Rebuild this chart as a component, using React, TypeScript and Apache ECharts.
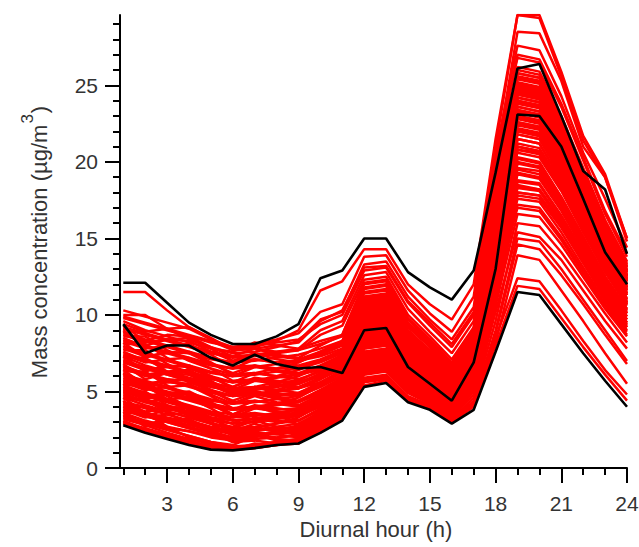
import { useEffect, useRef } from 'react';
import * as echarts from 'echarts';

// Hours of the day (x values)
const hours = [1, 2, 3, 4, 5, 6, 7, 8, 9, 10, 11, 12, 13, 14, 15, 16, 17, 18, 19, 20, 21, 22, 23, 24];

// Axis ticks
const xMajorTicks = [3, 6, 9, 12, 15, 18, 21, 24];
const xMinorTicks = [1, 2, 3, 4, 5, 6, 7, 8, 9, 10, 11, 12, 13, 14, 15, 16, 17, 18, 19, 20, 21, 22, 23, 24];
const yMajorTicks = [0, 5, 10, 15, 20, 25];
const yMinorTicks = [1, 2, 3, 4, 5, 6, 7, 8, 9, 10, 11, 12, 13, 14, 15, 16, 17, 18, 19, 20, 21, 22, 23, 24, 25, 26, 27, 28, 29];

// Black highlighted profiles (µg/m3)
const blackUpper = [12.1, 12.1, 10.8, 9.5, 8.7, 8.1, 8.1, 8.6, 9.4, 12.4, 12.9, 15.0, 15.0, 12.8, 11.8, 11.0, 12.9, 19.3, 26.1, 26.4, 23.0, 19.4, 18.2, 14.0];
const blackMiddle = [9.4, 7.5, 8.0, 8.0, 7.2, 6.7, 7.4, 6.8, 6.5, 6.6, 6.2, 9.0, 9.15, 6.6, 5.5, 4.4, 6.9, 13.0, 23.1, 23.0, 21.0, 17.6, 14.1, 12.0];
const blackLower = [2.8, 2.3, 1.9, 1.5, 1.2, 1.15, 1.3, 1.5, 1.6, 2.3, 3.1, 5.3, 5.55, 4.3, 3.8, 2.9, 3.8, 7.6, 11.5, 11.3, 9.4, 7.5, 5.7, 4.0];

// Red profiles, low morning level
const redLow = [
  [3.0, 2.6, 2.2, 1.8, 1.4, 1.2, 1.3, 1.5, 1.7, 2.5, 3.3, 5.6, 5.8, 4.5, 3.9, 3.0, 4.1, 8.2, 13.9, 13.6, 11.6, 9.6, 7.5, 5.5],
  [3.1, 2.5, 2.1, 1.7, 1.3, 1.2, 1.6, 1.5, 1.6, 2.6, 3.5, 5.9, 6.1, 4.7, 4.1, 3.2, 4.6, 9.6, 16.0, 15.8, 14.1, 12.1, 10.1, 8.2],
  [3.3, 2.9, 2.5, 2.1, 1.7, 1.4, 1.5, 1.7, 1.9, 2.8, 3.6, 6.1, 6.3, 4.9, 4.2, 3.3, 4.8, 10.2, 15.4, 15.1, 13.6, 11.6, 9.6, 7.8],
  [3.4, 2.9, 3.1, 3.2, 2.5, 1.7, 1.8, 1.6, 1.7, 2.7, 3.8, 6.4, 6.5, 5.0, 4.3, 3.4, 5.0, 11.0, 17.2, 17.0, 15.1, 12.9, 10.7, 8.9],
  [3.5, 2.9, 2.5, 2.1, 1.7, 1.5, 2.1, 1.9, 1.8, 2.7, 3.6, 6.3, 6.5, 5.0, 4.3, 3.4, 5.1, 11.2, 17.6, 17.4, 15.4, 13.1, 10.9, 9.0],
  [3.6, 3.6, 2.7, 2.0, 1.5, 1.2, 1.3, 1.5, 1.9, 2.9, 3.7, 6.2, 6.4, 5.0, 4.3, 3.3, 5.2, 11.8, 18.3, 18.1, 16.0, 13.6, 11.3, 9.4],
  [3.7, 2.7, 3.1, 3.0, 2.3, 1.7, 2.2, 1.8, 1.6, 2.5, 3.4, 6.6, 6.8, 5.2, 4.5, 3.5, 5.0, 10.6, 16.6, 16.4, 14.6, 12.5, 10.4, 8.6],
  [3.8, 3.3, 3.5, 3.6, 2.9, 2.1, 2.2, 2.0, 2.1, 2.9, 3.8, 6.6, 6.8, 5.2, 4.5, 3.5, 5.4, 12.1, 18.8, 18.6, 16.5, 14.1, 11.7, 9.7],
  [3.9, 3.5, 3.1, 2.7, 2.3, 2.0, 2.1, 2.3, 2.5, 3.3, 4.1, 6.8, 7.0, 5.4, 4.6, 3.6, 5.5, 12.4, 19.2, 18.9, 16.8, 14.3, 11.9, 9.9],
  [4.0, 3.4, 3.0, 2.6, 2.2, 2.0, 2.6, 2.4, 2.2, 3.0, 3.9, 6.7, 6.9, 5.3, 4.6, 3.6, 5.3, 11.5, 17.8, 17.6, 15.7, 13.4, 11.1, 9.2],
  [4.2, 3.7, 3.9, 4.0, 3.3, 2.5, 2.6, 2.4, 2.5, 3.3, 4.2, 7.0, 7.2, 5.6, 4.8, 3.8, 5.6, 12.6, 19.6, 19.4, 17.2, 14.7, 12.2, 10.1],
  [4.3, 3.9, 3.5, 3.1, 2.7, 2.4, 2.5, 2.7, 2.9, 3.6, 4.4, 7.1, 7.3, 5.7, 4.9, 3.9, 5.9, 13.1, 20.3, 20.0, 17.7, 15.1, 12.5, 10.4],
  [4.4, 3.4, 3.8, 3.7, 3.0, 2.4, 2.9, 2.5, 2.3, 3.1, 4.0, 7.2, 7.4, 5.7, 4.9, 3.9, 5.7, 12.2, 18.0, 17.8, 15.9, 13.5, 11.2, 9.3],
  [4.5, 4.5, 3.6, 2.9, 2.4, 2.0, 2.1, 2.4, 2.8, 3.7, 4.5, 7.3, 7.5, 5.8, 5.0, 3.9, 5.6, 12.0, 18.7, 18.5, 16.4, 14.0, 11.6, 9.7],
  [4.6, 3.6, 4.0, 3.9, 3.2, 2.6, 3.1, 2.7, 2.5, 3.2, 4.0, 7.4, 7.6, 5.9, 5.1, 4.0, 6.1, 13.6, 21.0, 20.7, 18.3, 15.6, 12.9, 10.8],
  [4.8, 4.4, 4.0, 3.6, 3.2, 2.9, 3.0, 3.2, 3.4, 4.0, 4.8, 7.6, 7.8, 6.1, 5.2, 4.1, 5.8, 12.8, 19.9, 19.6, 17.4, 14.8, 12.3, 10.2],
  [4.9, 4.3, 3.9, 3.5, 3.1, 2.9, 3.5, 3.3, 3.1, 3.8, 4.7, 7.8, 8.0, 6.2, 5.3, 4.2, 6.3, 14.2, 21.8, 21.5, 19.0, 16.2, 13.4, 11.1],
  [5.0, 5.0, 4.1, 3.4, 2.9, 2.5, 2.6, 2.9, 3.3, 4.1, 4.9, 7.8, 8.0, 6.2, 5.3, 4.2, 6.2, 14.0, 22.9, 22.6, 20.0, 17.1, 14.1, 11.8],
  [5.1, 4.6, 4.8, 4.9, 4.2, 3.4, 3.5, 3.3, 3.4, 4.1, 5.0, 7.9, 8.1, 6.3, 5.4, 4.3, 6.0, 13.0, 20.2, 19.9, 17.7, 15.1, 12.5, 10.4],
  [5.2, 4.8, 4.4, 4.0, 3.6, 3.3, 3.4, 3.6, 3.8, 4.4, 5.2, 8.1, 8.3, 6.5, 5.6, 4.4, 6.5, 14.6, 22.5, 22.2, 19.6, 16.7, 13.8, 11.5],
  [5.3, 4.7, 4.3, 3.9, 3.5, 3.3, 3.9, 3.7, 3.5, 4.3, 5.1, 8.2, 8.4, 6.6, 5.6, 4.4, 6.4, 14.4, 22.2, 21.9, 19.5, 16.6, 13.7, 11.4],
  [5.4, 5.4, 4.5, 3.8, 3.3, 2.9, 3.0, 3.3, 3.7, 4.5, 5.3, 8.2, 8.4, 6.6, 5.7, 4.5, 6.2, 13.4, 20.8, 20.6, 18.3, 15.6, 12.9, 10.7],
];

// Extra red profiles filling the low band (first two hug the lowest black profile)
const redLowExtra = [
  [2.9, 2.4, 2.0, 1.6, 1.3, 1.25, 1.4, 1.6, 1.7, 2.4, 3.2, 5.4, 5.7, 4.4, 3.9, 3.0, 4.0, 8.0, 11.9, 11.7, 9.8, 7.9, 6.1, 4.4],
  [3.0, 2.5, 2.1, 1.7, 1.4, 1.3, 1.5, 1.7, 1.9, 2.6, 3.4, 5.7, 5.9, 4.6, 4.0, 3.1, 4.2, 8.5, 12.4, 12.2, 10.3, 8.3, 6.4, 4.8],
  [2.9, 2.4, 2.0, 1.6, 1.3, 1.2, 1.4, 1.6, 1.8, 2.6, 3.4, 5.8, 6.0, 4.6, 4.0, 3.1, 4.4, 9.0, 15.0, 14.8, 13.0, 11.0, 9.0, 7.0],
  [3.2, 2.8, 2.3, 1.9, 1.6, 1.3, 1.4, 1.6, 1.8, 2.4, 3.2, 5.7, 5.9, 4.6, 4.0, 3.1, 4.3, 8.8, 14.6, 14.3, 12.6, 10.7, 8.7, 6.8],
  [3.4, 3.0, 2.6, 2.4, 2.0, 1.8, 1.9, 2.0, 2.2, 3.0, 3.9, 6.5, 6.7, 5.1, 4.4, 3.4, 5.2, 11.6, 18.0, 17.8, 15.8, 13.4, 11.1, 9.2],
  [3.6, 3.1, 2.7, 2.4, 2.1, 1.9, 2.3, 2.2, 2.0, 2.8, 3.7, 6.4, 6.6, 5.1, 4.4, 3.5, 5.3, 11.9, 18.5, 18.2, 16.2, 13.8, 11.5, 9.5],
  [3.8, 3.4, 3.0, 2.6, 2.2, 1.9, 2.0, 2.3, 2.6, 3.4, 4.2, 6.9, 7.1, 5.5, 4.7, 3.7, 5.7, 12.8, 20.0, 19.7, 17.5, 14.9, 12.4, 10.3],
  [4.0, 3.6, 3.3, 3.0, 2.6, 2.3, 2.4, 2.6, 2.7, 3.5, 4.3, 7.0, 7.2, 5.6, 4.8, 3.8, 5.5, 12.3, 17.0, 16.8, 14.9, 12.7, 10.6, 8.7],
  [4.1, 3.6, 3.2, 2.8, 2.5, 2.2, 2.3, 2.2, 2.4, 3.2, 4.1, 6.9, 7.1, 5.5, 4.7, 3.7, 5.4, 12.0, 18.4, 18.2, 16.2, 13.8, 11.4, 9.5],
  [4.3, 4.0, 3.7, 3.3, 2.9, 2.6, 2.7, 2.9, 3.1, 3.8, 4.6, 7.3, 7.5, 5.8, 5.0, 4.0, 6.0, 13.4, 20.8, 20.5, 18.2, 15.5, 12.8, 10.6],
  [4.6, 4.1, 3.7, 3.3, 2.9, 2.7, 3.3, 3.1, 2.9, 3.6, 4.5, 7.5, 7.7, 6.0, 5.1, 4.1, 6.2, 13.9, 21.5, 21.2, 18.8, 16.0, 13.3, 11.0],
  [4.7, 4.3, 4.5, 4.6, 3.9, 3.1, 3.2, 3.0, 3.1, 3.9, 4.7, 7.6, 7.8, 6.0, 5.2, 4.1, 5.9, 12.9, 19.3, 19.0, 16.9, 14.4, 11.9, 9.9],
  [5.0, 4.5, 4.1, 3.7, 3.3, 3.1, 3.2, 3.4, 3.6, 4.3, 5.1, 8.0, 8.2, 6.4, 5.5, 4.3, 6.4, 14.4, 22.0, 21.7, 19.3, 16.4, 13.6, 11.3],
  [5.2, 4.7, 4.9, 5.0, 4.3, 3.5, 3.6, 3.4, 3.5, 4.2, 5.1, 8.0, 8.2, 6.4, 5.5, 4.4, 6.6, 14.8, 23.0, 22.7, 20.1, 17.1, 14.2, 11.8],
  [5.4, 4.9, 4.5, 4.1, 3.7, 3.5, 4.1, 3.9, 3.7, 4.4, 5.2, 8.3, 8.5, 6.6, 5.7, 4.5, 6.5, 14.5, 21.0, 20.7, 18.4, 15.7, 13.0, 10.8],
];

// Red profiles, middle morning level
const redMid = [
  [5.5, 4.5, 4.9, 4.8, 4.1, 3.5, 4.0, 3.6, 3.4, 4.1, 4.9, 8.3, 8.5, 6.7, 5.7, 4.5, 6.7, 15.1, 23.3, 23.0, 20.3, 17.3, 14.3, 11.9],
  [5.6, 5.1, 5.3, 5.4, 4.7, 3.9, 4.0, 3.8, 3.9, 4.6, 5.4, 8.4, 8.6, 6.7, 5.8, 4.6, 6.8, 15.3, 24.4, 24.1, 21.4, 18.2, 15.1, 12.5],
  [5.6, 5.6, 4.7, 4.0, 3.5, 3.1, 3.2, 3.5, 3.9, 4.7, 5.5, 8.4, 8.6, 6.7, 5.8, 4.6, 6.9, 15.6, 24.2, 23.9, 21.2, 18.0, 14.9, 12.4],
  [5.7, 5.3, 4.9, 4.5, 4.1, 3.8, 3.9, 4.1, 4.3, 4.9, 5.7, 8.5, 8.7, 6.8, 5.9, 4.7, 6.4, 13.8, 21.5, 21.2, 18.8, 16.1, 13.3, 11.0],
  [5.8, 5.2, 4.8, 4.4, 4.0, 3.8, 4.4, 4.2, 4.0, 4.6, 5.5, 8.6, 8.8, 6.9, 6.0, 4.7, 6.9, 15.5, 24.0, 23.7, 21.0, 17.9, 14.8, 12.3],
  [5.9, 5.4, 5.0, 4.6, 4.2, 3.9, 4.0, 4.2, 4.4, 5.0, 5.8, 8.7, 8.9, 7.0, 6.0, 4.8, 6.8, 15.2, 22.6, 22.3, 19.8, 16.9, 14.0, 11.6],
  [6.0, 5.5, 5.7, 5.8, 5.1, 4.3, 4.4, 4.2, 4.3, 5.0, 5.8, 8.8, 9.0, 7.0, 6.1, 4.8, 6.6, 14.2, 22.1, 21.8, 19.4, 16.5, 13.6, 11.3],
  [6.1, 5.7, 5.3, 4.9, 4.5, 4.2, 4.3, 4.5, 4.7, 5.3, 6.0, 8.9, 9.1, 7.1, 6.2, 4.9, 7.1, 16.0, 24.7, 24.4, 21.6, 18.4, 15.2, 12.6],
  [6.2, 5.6, 5.2, 4.8, 4.4, 4.2, 4.8, 4.6, 4.4, 5.1, 5.9, 9.0, 9.2, 7.2, 6.2, 4.9, 6.9, 15.0, 21.2, 20.9, 18.6, 15.9, 13.1, 10.9],
  [6.2, 5.2, 5.6, 5.5, 4.8, 4.2, 4.7, 4.3, 4.1, 4.8, 5.6, 8.9, 9.1, 7.2, 6.2, 4.9, 7.0, 15.7, 23.9, 23.6, 21.0, 17.9, 14.8, 12.3],
  [6.3, 6.3, 5.4, 4.7, 4.2, 3.8, 3.9, 4.2, 4.6, 5.4, 6.1, 9.0, 9.2, 7.2, 6.2, 5.0, 6.8, 14.6, 22.8, 22.5, 20.0, 17.0, 14.1, 11.7],
  [6.4, 5.4, 5.8, 5.7, 5.0, 4.4, 4.9, 4.5, 4.3, 4.9, 5.7, 9.1, 9.3, 7.3, 6.3, 5.0, 7.0, 15.2, 19.5, 19.2, 17.1, 14.6, 12.1, 10.1],
  [6.5, 6.0, 6.2, 6.3, 5.6, 4.8, 4.9, 4.7, 4.8, 5.5, 6.3, 9.2, 9.4, 7.4, 6.4, 5.1, 7.2, 16.2, 23.6, 23.3, 20.7, 17.7, 14.6, 12.2],
  [6.6, 6.2, 5.8, 5.4, 5.0, 4.7, 4.8, 5.0, 5.2, 5.8, 6.5, 9.3, 9.5, 7.5, 6.5, 5.1, 7.3, 16.4, 25.2, 24.9, 22.0, 18.8, 15.5, 12.9],
  [6.6, 6.1, 6.3, 6.4, 5.7, 4.9, 5.0, 4.8, 4.9, 5.6, 6.4, 9.3, 9.5, 7.5, 6.5, 5.2, 7.4, 16.6, 24.9, 24.6, 21.9, 18.6, 15.4, 12.8],
  [6.7, 6.1, 5.7, 5.3, 4.9, 4.7, 5.3, 5.1, 4.9, 5.5, 6.3, 9.4, 9.6, 7.6, 6.5, 5.2, 7.0, 15.0, 23.4, 23.1, 20.6, 17.5, 14.5, 12.1],
  [6.8, 5.8, 6.2, 6.1, 5.4, 4.8, 5.3, 4.9, 4.7, 5.3, 6.1, 9.5, 9.7, 7.6, 6.6, 5.2, 7.5, 16.9, 25.5, 25.2, 22.4, 19.1, 15.8, 13.1],
  [6.9, 6.4, 6.6, 6.7, 6.0, 5.2, 5.3, 5.1, 5.2, 5.8, 6.6, 9.6, 9.8, 7.7, 6.6, 5.3, 7.4, 16.8, 21.0, 20.7, 18.4, 15.7, 13.0, 10.8],
  [6.9, 6.5, 6.1, 5.7, 5.3, 5.0, 5.1, 5.3, 5.5, 6.0, 6.7, 9.6, 9.8, 7.7, 6.7, 5.3, 7.1, 15.6, 22.4, 22.1, 19.7, 16.8, 13.9, 11.6],
  [7.0, 6.6, 6.2, 5.8, 5.4, 5.1, 5.2, 5.4, 5.6, 6.1, 6.8, 9.7, 9.9, 7.8, 6.7, 5.4, 7.2, 15.8, 24.2, 23.9, 21.3, 18.1, 15.0, 12.5],
  [7.1, 6.5, 6.1, 5.7, 5.3, 5.1, 5.7, 5.5, 5.3, 5.9, 6.7, 9.8, 10.0, 7.9, 6.8, 5.4, 7.6, 17.0, 24.5, 24.2, 21.5, 18.4, 15.2, 12.6],
  [7.2, 7.2, 6.3, 5.6, 5.1, 4.7, 4.8, 5.1, 5.5, 6.2, 6.8, 9.8, 10.0, 7.9, 6.8, 5.4, 7.6, 17.2, 25.8, 25.5, 22.6, 19.3, 15.9, 13.2],
  [7.3, 6.3, 6.7, 6.6, 5.9, 5.3, 5.8, 5.4, 5.2, 5.6, 6.3, 9.9, 10.1, 8.0, 6.9, 5.5, 7.3, 16.0, 20.6, 20.3, 18.1, 15.4, 12.8, 10.7],
  [7.3, 6.7, 6.3, 5.9, 5.5, 5.3, 5.9, 5.7, 5.5, 6.1, 6.9, 9.9, 10.1, 8.0, 6.9, 5.5, 7.7, 17.3, 25.1, 24.8, 22.1, 18.8, 15.6, 13.0],
  [7.4, 6.9, 7.1, 7.2, 6.5, 5.7, 5.8, 5.6, 5.7, 6.4, 7.1, 10.0, 10.2, 8.0, 6.9, 5.5, 7.8, 17.0, 23.0, 22.7, 20.2, 17.2, 14.3, 11.9],
  [7.5, 7.1, 6.7, 6.3, 5.9, 5.6, 5.7, 5.9, 6.1, 6.5, 7.1, 10.1, 10.3, 8.1, 7.0, 5.6, 7.7, 17.5, 24.8, 24.5, 21.8, 18.6, 15.4, 12.8],
  [7.6, 7.0, 6.6, 6.2, 5.8, 5.6, 6.2, 6.0, 5.8, 6.3, 7.0, 10.2, 10.4, 8.2, 7.0, 5.7, 7.5, 16.4, 22.0, 21.7, 19.4, 16.6, 13.7, 11.4],
  [7.7, 7.7, 6.8, 6.1, 5.6, 5.2, 5.3, 5.6, 6.0, 6.6, 7.2, 10.3, 10.5, 8.2, 7.1, 5.7, 7.8, 17.6, 24.2, 23.9, 21.3, 18.1, 15.0, 12.5],
  [7.8, 7.3, 7.5, 7.6, 6.9, 6.1, 6.2, 6.0, 6.1, 6.6, 7.3, 10.4, 10.6, 8.3, 7.1, 5.8, 7.9, 18.0, 23.8, 23.5, 20.9, 17.8, 14.7, 12.3],
  [7.9, 7.5, 7.1, 6.7, 6.3, 6.0, 6.1, 6.3, 6.5, 6.9, 7.5, 10.5, 10.7, 8.4, 7.2, 5.8, 7.6, 16.8, 26.0, 25.7, 22.9, 19.5, 16.1, 13.4],
];

// Red profiles, high morning level
const redHigh = [
  [8.0, 7.4, 7.0, 6.6, 6.2, 6.0, 6.6, 6.4, 6.2, 6.7, 7.4, 10.6, 10.8, 8.5, 7.3, 5.9, 8.1, 18.2, 25.0, 24.7, 22.0, 18.7, 15.5, 12.9],
  [8.1, 8.1, 7.2, 6.5, 6.0, 5.6, 5.7, 6.0, 6.4, 7.0, 7.6, 10.6, 10.8, 8.5, 7.3, 5.9, 8.0, 18.4, 22.6, 22.3, 19.9, 17.0, 14.0, 11.7],
  [8.2, 7.2, 7.6, 7.5, 6.8, 6.2, 6.7, 6.3, 6.1, 6.4, 7.0, 10.7, 10.9, 8.6, 7.4, 6.0, 7.8, 17.2, 24.6, 24.3, 21.6, 18.4, 15.2, 12.7],
  [8.3, 7.8, 8.0, 8.1, 7.4, 6.6, 6.7, 6.5, 6.6, 7.0, 7.7, 10.8, 11.0, 8.7, 7.5, 6.1, 8.1, 18.3, 23.6, 23.3, 20.7, 17.7, 14.6, 12.2],
  [8.4, 8.0, 7.6, 7.2, 6.8, 6.5, 6.6, 6.8, 7.0, 7.3, 7.8, 10.9, 11.1, 8.8, 7.5, 6.1, 8.2, 18.8, 25.4, 25.1, 22.3, 19.0, 15.7, 13.1],
  [8.5, 7.9, 7.5, 7.1, 6.7, 6.5, 7.1, 6.9, 6.7, 7.1, 7.7, 11.0, 11.2, 8.9, 7.6, 6.2, 8.0, 17.6, 21.8, 21.5, 19.2, 16.4, 13.6, 11.3],
  [8.6, 8.6, 7.7, 7.0, 6.5, 6.1, 6.2, 6.5, 6.9, 7.5, 8.1, 11.1, 11.3, 8.9, 7.7, 6.3, 8.3, 18.5, 23.2, 22.9, 20.4, 17.4, 14.4, 12.0],
  [8.7, 8.2, 8.4, 8.5, 7.8, 7.0, 7.1, 6.9, 7.0, 7.4, 8.0, 11.2, 11.4, 9.0, 7.7, 6.3, 8.4, 19.2, 24.0, 23.7, 21.1, 18.0, 14.9, 12.4],
  [8.8, 8.4, 8.0, 7.6, 7.2, 6.9, 7.0, 7.2, 7.4, 7.8, 8.3, 11.4, 11.6, 9.2, 7.9, 6.4, 8.2, 18.0, 26.2, 25.9, 23.0, 19.6, 16.2, 13.5],
  [8.9, 8.3, 7.9, 7.5, 7.1, 6.9, 7.5, 7.3, 7.1, 7.6, 8.3, 11.5, 11.7, 9.3, 8.0, 6.5, 8.5, 18.9, 25.8, 25.5, 22.7, 19.3, 16.0, 13.3],
  [9.0, 8.0, 8.4, 8.3, 7.6, 7.0, 7.5, 7.1, 6.9, 7.6, 8.2, 11.7, 11.9, 9.4, 8.1, 6.6, 8.6, 18.6, 25.0, 24.7, 22.0, 18.7, 15.5, 12.9],
  [9.1, 8.7, 8.3, 7.9, 7.5, 7.2, 7.3, 7.5, 7.7, 8.1, 8.6, 11.8, 12.0, 9.5, 8.2, 6.7, 8.8, 19.0, 24.4, 24.1, 21.5, 18.3, 15.2, 12.6],
  [9.2, 8.8, 8.4, 8.0, 7.6, 7.3, 7.4, 7.6, 7.8, 8.3, 8.7, 12.0, 12.2, 9.7, 8.3, 6.8, 9.0, 19.6, 27.0, 26.7, 23.8, 20.3, 16.8, 14.0],
  [9.3, 8.3, 8.7, 8.6, 7.9, 7.3, 7.8, 7.4, 7.2, 8.0, 8.7, 12.1, 12.3, 9.8, 8.4, 6.9, 9.1, 19.8, 24.8, 24.5, 21.8, 18.6, 15.4, 12.8],
  [9.4, 8.9, 9.1, 9.2, 8.5, 7.7, 7.8, 7.6, 7.7, 8.7, 9.3, 12.3, 12.5, 10.0, 8.6, 7.1, 9.2, 20.0, 23.4, 23.1, 20.6, 17.6, 14.6, 12.2],
  [9.6, 9.0, 8.6, 8.2, 7.8, 7.6, 8.2, 8.0, 7.8, 9.0, 9.6, 12.6, 12.8, 10.4, 8.9, 7.5, 9.6, 20.4, 25.6, 25.3, 22.5, 19.2, 15.9, 13.2],
  [9.8, 9.4, 9.0, 8.6, 8.2, 7.9, 8.0, 8.2, 8.4, 9.4, 10.0, 12.9, 13.1, 10.8, 9.3, 7.9, 10.0, 20.0, 28.5, 28.4, 25.3, 21.0, 19.0, 15.0],
  [9.9, 9.5, 9.1, 8.7, 8.3, 7.7, 7.8, 8.0, 8.2, 9.6, 10.3, 13.1, 13.2, 10.9, 9.5, 8.1, 10.2, 20.6, 27.6, 27.3, 24.3, 20.6, 17.6, 14.4],
  [10.0, 10.0, 9.1, 8.4, 7.9, 7.5, 7.6, 7.9, 8.3, 9.7, 10.2, 13.3, 13.5, 11.2, 9.7, 8.4, 10.5, 20.4, 26.8, 26.5, 23.6, 20.1, 16.6, 13.8],
  [10.3, 9.9, 9.5, 9.1, 8.4, 7.9, 8.1, 8.4, 8.8, 10.2, 10.7, 13.8, 13.9, 11.6, 10.1, 8.9, 11.2, 21.0, 29.6, 29.6, 25.9, 21.7, 19.2, 15.0],
  [11.5, 11.5, 10.3, 9.2, 8.4, 7.8, 7.9, 8.3, 9.0, 11.6, 12.2, 14.3, 14.3, 12.0, 10.7, 9.7, 12.0, 21.5, 29.6, 29.4, 25.6, 21.4, 19.0, 14.8],
];

const FONT = '"Liberation Sans", Arial, Helvetica, sans-serif';
const LABEL_COLOR = '#333333';

function measure(text: string, size: number): number {
  const ctx = document.createElement('canvas').getContext('2d');
  if (!ctx) return text.length * size * 0.55;
  ctx.font = `${size}px ${FONT}`;
  return ctx.measureText(text).width;
}

function toPoints(values: number[]) {
  return hours.map((h, i) => [h, values[i]]);
}

export default function App() {
  const ref = useRef<HTMLDivElement>(null);

  useEffect(() => {
    if (!ref.current) return;
    const chart = echarts.init(ref.current, null, { renderer: 'svg' });

    const redSeries = [...redLow, ...redLowExtra, ...redMid, ...redHigh].map((vals, i) => ({
      type: 'line',
      name: 'red' + i,
      data: toPoints(vals),
      symbol: 'none',
      showSymbol: false,
      silent: true,
      xAxisIndex: 0,
      yAxisIndex: 0,
      lineStyle: { color: '#ff0000', width: 2.5 },
      z: 2,
    }));
    const blackSeries = [blackUpper, blackMiddle, blackLower].map((vals, i) => ({
      type: 'line',
      name: 'black' + i,
      data: toPoints(vals),
      symbol: 'none',
      showSymbol: false,
      silent: true,
      xAxisIndex: 0,
      yAxisIndex: 0,
      lineStyle: { color: '#000000', width: 2.6 },
      z: 3,
    }));

    // Y-axis title with superscript
    const mainTxt = 'Mass concentration (µg/m';
    const supTxt = '3';
    const closeTxt = ')';
    const fMain = 22;
    const fSup = 17;
    const w1 = measure(mainTxt, fMain);
    const w2 = measure(supTxt, fSup);
    const w3 = measure(closeTxt, fMain);
    const W = w1 + w2 + 2 + w3;
    const x0 = -W / 2;

    const option = {
      animation: false,
      backgroundColor: '#ffffff',
      grid: { left: 120, right: 12, top: 15, bottom: 79, containLabel: false, outerBoundsMode: 'none' },
      xAxis: [
        {
          type: 'value',
          position: 'bottom',
          min: 0.85,
          max: 24,
          axisLine: { show: true, onZero: false, lineStyle: { color: '#000', width: 2 } },
          axisTick: { show: true, customValues: xMajorTicks, length: 15, lineStyle: { color: '#000', width: 2 } },
          axisLabel: { show: true, customValues: xMajorTicks, margin: 25, fontSize: 21, color: LABEL_COLOR, fontFamily: FONT },
          splitLine: { show: false },
        },
        {
          type: 'value',
          position: 'bottom',
          min: 0.85,
          max: 24,
          axisLine: { show: false, onZero: false },
          axisTick: { show: true, customValues: xMinorTicks, length: 7, lineStyle: { color: '#000', width: 2 } },
          axisLabel: { show: false },
          splitLine: { show: false },
        },
      ],
      yAxis: [
        {
          type: 'value',
          position: 'left',
          min: 0,
          max: 29.6,
          axisLine: { show: true, onZero: false, lineStyle: { color: '#000', width: 2 } },
          axisTick: { show: true, customValues: yMajorTicks, length: 15, lineStyle: { color: '#000', width: 2 } },
          axisLabel: { show: true, customValues: yMajorTicks, margin: 22, fontSize: 21, color: LABEL_COLOR, fontFamily: FONT },
          splitLine: { show: false },
        },
        {
          type: 'value',
          position: 'left',
          min: 0,
          max: 29.6,
          axisLine: { show: false, onZero: false },
          axisTick: { show: true, customValues: yMinorTicks, length: 7, lineStyle: { color: '#000', width: 2 } },
          axisLabel: { show: false },
          splitLine: { show: false },
        },
      ],
      graphic: [
        {
          type: 'text',
          x: 376,
          y: 529.5,
          style: {
            text: 'Diurnal hour (h)',
            fontSize: 22,
            fontFamily: FONT,
            fill: LABEL_COLOR,
            align: 'center',
            verticalAlign: 'middle',
            textAlign: 'center',
            textVerticalAlign: 'middle',
          },
        },
        {
          type: 'group',
          x: 39.5,
          y: 242,
          rotation: Math.PI / 2,
          children: [
            {
              type: 'text',
              x: x0,
              y: 0,
              style: { text: mainTxt, fontSize: fMain, fontFamily: FONT, fill: LABEL_COLOR, align: 'left', verticalAlign: 'middle', textAlign: 'left', textVerticalAlign: 'middle' },
            },
            {
              type: 'text',
              x: x0 + w1 + 1,
              y: -12,
              style: { text: supTxt, fontSize: fSup, fontFamily: FONT, fill: LABEL_COLOR, align: 'left', verticalAlign: 'middle', textAlign: 'left', textVerticalAlign: 'middle' },
            },
            {
              type: 'text',
              x: x0 + w1 + w2 + 2,
              y: 0,
              style: { text: closeTxt, fontSize: fMain, fontFamily: FONT, fill: LABEL_COLOR, align: 'left', verticalAlign: 'middle', textAlign: 'left', textVerticalAlign: 'middle' },
            },
          ],
        },
      ],
      series: [...redSeries, ...blackSeries],
    };

    chart.setOption(option as any);
    return () => chart.dispose();
  }, []);

  return (
    <div
      ref={ref}
      style={{ position: 'fixed', left: 0, top: 0, width: 639, height: 547, background: '#ffffff' }}
    />
  );
}
